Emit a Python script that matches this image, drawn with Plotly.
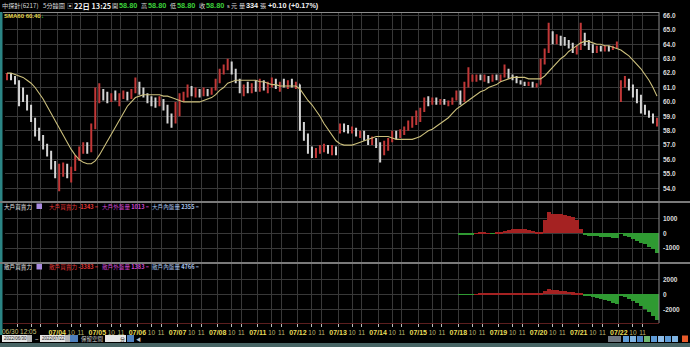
import plotly.graph_objects as go
from plotly.subplots import make_subplots

W, H = 690, 347

# ---------------- data (10 bars per trading day, 06/30 afternoon = 3 bars) ----------------
day_labels = ["07/01", "07/04", "07/05", "07/06", "07/07", "07/08", "07/11", "07/12",
              "07/13", "07/14", "07/15", "07/18", "07/19", "07/20", "07/21", "07/22"]
hour_labels = ["10", "11"]

opens = [61.6, 61.9, 61.6,
         61.4, 60.6, 60.3, 59.6, 58.8, 57.9, 57.5, 57.0, 56.4, 55.6,
         55.0, 55.2, 55.4, 55.0, 55.3, 56.1, 56.7, 57.0, 56.6, 58.2,
         60.3, 60.6, 60.4, 60.2, 60.5, 60.3, 60.4, 60.6, 60.3, 60.8,
         61.2, 60.7, 60.5, 60.1, 60.0, 59.9, 60.1, 59.6, 58.9, 58.7,
         59.8, 60.3, 60.5, 60.9, 60.6, 60.8, 60.5, 60.7, 60.6, 60.9,
         61.4, 62.1, 62.4, 62.6, 62.1, 61.5, 60.9, 61.0, 60.8, 61.1,
         61.0, 61.2, 60.9, 61.2, 61.5, 61.1, 61.3, 61.2, 61.4, 61.1,
         61.2, 58.4, 57.6, 56.7, 56.3, 56.6, 56.8, 56.9, 56.6, 56.8,
         57.9, 58.3, 58.2, 58.0, 58.1, 57.8, 57.9, 57.5, 57.3, 57.4,
         57.0, 56.6, 57.1, 57.3, 57.8, 57.6, 57.9, 58.1, 58.5, 58.8,
         59.1, 59.4, 60.1, 59.9, 60.1, 59.9, 60.0, 59.9, 60.0, 60.2,
         60.6, 60.1, 61.1, 61.6, 61.7, 61.8, 61.6, 61.7, 61.5, 61.7,
         61.6, 61.8, 62.2, 61.7, 61.6, 61.4, 61.3, 61.2, 61.3, 61.1,
         61.2, 62.8, 63.5, 64.5, 64.3, 64.5, 64.2, 64.1, 63.9, 63.6,
         63.7, 64.6, 64.1, 63.8, 63.6, 63.7, 63.6, 63.8, 63.7, 63.8,
         60.1, 61.3, 61.5, 61.0, 60.5, 60.2, 59.5, 59.3, 59.1, 58.7]
highs = [62.0, 62.0, 61.8,
         61.5, 61.0, 60.5, 59.8, 58.9, 58.2, 57.7, 57.1, 56.6, 55.9,
         55.7, 55.8, 55.7, 55.5, 56.3, 56.9, 57.2, 57.2, 58.5, 61.0,
         61.3, 60.9, 60.7, 60.6, 60.8, 60.6, 60.8, 60.7, 60.9, 61.7,
         61.4, 61.0, 60.6, 60.4, 60.3, 60.4, 60.2, 59.8, 59.2, 60.0,
         60.6, 60.7, 61.2, 61.1, 61.0, 60.9, 61.0, 60.9, 61.0, 61.6,
         62.3, 62.6, 63.0, 62.8, 62.3, 61.6, 61.2, 61.4, 61.3, 61.5,
         61.6, 61.5, 61.4, 61.7, 61.6, 61.4, 61.6, 61.5, 61.6, 61.4,
         61.2, 58.6, 57.8, 56.9, 56.8, 57.0, 57.1, 57.0, 57.0, 56.9,
         58.5, 58.5, 58.4, 58.3, 58.2, 58.0, 58.0, 57.7, 57.6, 57.5,
         57.2, 57.3, 57.5, 58.0, 58.0, 58.1, 58.3, 58.7, 59.0, 59.4,
         59.6, 60.3, 60.4, 60.3, 60.3, 60.2, 60.2, 60.1, 60.3, 60.8,
         60.8, 61.4, 62.4, 61.9, 61.9, 61.9, 61.9, 61.8, 61.9, 61.9,
         61.9, 62.6, 62.3, 61.9, 61.8, 61.5, 61.4, 61.4, 61.4, 61.3,
         63.0, 63.7, 65.5, 64.9, 64.7, 64.6, 64.5, 64.3, 64.1, 63.9,
         65.5, 64.8, 64.3, 64.0, 63.9, 63.9, 63.9, 63.9, 63.9, 64.2,
         61.5, 61.8, 61.6, 61.2, 60.9, 60.5, 59.8, 59.4, 59.2, 58.9]
lows = [61.5, 61.5, 61.2,
        59.7, 60.0, 59.4, 58.6, 57.6, 57.3, 56.7, 56.2, 55.3, 54.7,
        53.8, 54.8, 54.7, 54.4, 55.2, 55.9, 56.4, 56.4, 56.5, 58.1,
        59.9, 60.1, 59.9, 60.0, 60.1, 59.7, 60.2, 60.1, 60.2, 60.6,
        60.5, 60.3, 59.9, 59.7, 59.6, 59.7, 59.4, 58.5, 58.2, 58.5,
        59.0, 60.0, 60.3, 60.4, 60.3, 60.3, 60.4, 60.4, 60.5, 60.8,
        61.3, 61.9, 62.2, 61.9, 61.3, 60.6, 60.4, 60.6, 60.6, 60.7,
        60.7, 60.8, 60.6, 61.0, 60.9, 60.7, 61.0, 60.9, 61.0, 60.9,
        58.0, 57.3, 56.4, 56.1, 56.1, 56.4, 56.5, 56.4, 56.3, 56.3,
        57.8, 57.9, 57.8, 57.8, 57.6, 57.5, 57.3, 57.0, 57.0, 56.8,
        55.8, 56.3, 56.6, 57.2, 57.4, 57.5, 57.7, 58.0, 58.2, 58.4,
        58.6, 59.3, 59.7, 59.8, 59.8, 59.8, 59.8, 59.7, 59.8, 60.1,
        59.8, 60.0, 61.0, 61.4, 61.4, 61.5, 61.4, 61.3, 61.4, 61.5,
        61.4, 61.7, 61.6, 61.5, 61.3, 61.2, 61.1, 61.1, 61.0, 61.0,
        61.2, 62.6, 63.4, 64.0, 64.0, 63.9, 63.9, 63.7, 63.4, 63.3,
        63.6, 63.9, 63.6, 63.4, 63.4, 63.5, 63.5, 63.5, 63.6, 63.7,
        60.0, 61.0, 60.8, 60.3, 59.9, 59.2, 59.1, 58.9, 58.5, 58.3]
closes = [61.9, 61.6, 61.4,
          60.6, 60.3, 59.6, 58.8, 57.9, 57.5, 57.0, 56.4, 55.6, 55.0,
          55.2, 55.4, 55.0, 55.3, 56.1, 56.7, 57.0, 56.6, 58.2, 60.3,
          60.6, 60.4, 60.2, 60.5, 60.3, 60.4, 60.6, 60.3, 60.8, 61.2,
          60.7, 60.5, 60.1, 60.0, 59.9, 60.1, 59.6, 58.9, 58.7, 59.8,
          60.3, 60.5, 60.9, 60.6, 60.8, 60.5, 60.7, 60.6, 60.9, 61.4,
          62.1, 62.4, 62.6, 62.1, 61.5, 60.9, 61.0, 60.8, 61.1, 61.0,
          61.2, 60.9, 61.2, 61.5, 61.1, 61.3, 61.2, 61.4, 61.1, 61.2,
          58.4, 57.6, 56.7, 56.3, 56.6, 56.8, 56.9, 56.6, 56.8, 56.5,
          58.3, 58.2, 58.0, 58.1, 57.8, 57.9, 57.5, 57.3, 57.4, 57.0,
          56.6, 57.1, 57.3, 57.8, 57.6, 57.9, 58.1, 58.5, 58.8, 59.1,
          59.4, 60.1, 59.9, 60.1, 59.9, 60.0, 59.9, 60.0, 60.2, 60.6,
          60.1, 61.1, 61.6, 61.7, 61.8, 61.6, 61.7, 61.5, 61.7, 61.6,
          61.8, 62.2, 61.7, 61.6, 61.4, 61.3, 61.2, 61.3, 61.1, 61.2,
          62.8, 63.5, 64.5, 64.3, 64.5, 64.2, 64.1, 63.9, 63.6, 63.7,
          64.6, 64.1, 63.8, 63.6, 63.7, 63.6, 63.8, 63.7, 63.8, 63.9,
          61.3, 61.5, 61.0, 60.5, 60.2, 59.5, 59.3, 59.1, 58.7, 58.8]
sma60 = [62.0, 62.0, 61.9,
         61.8, 61.7, 61.5, 61.3, 61.0, 60.6, 60.2, 59.7, 59.2, 58.6,
         58.1, 57.6, 57.1, 56.7, 56.3, 56.0, 55.8, 55.7, 55.7, 55.9,
         56.3, 56.8, 57.3, 57.8, 58.3, 58.8, 59.3, 59.7, 60.0, 60.3,
         60.4, 60.5, 60.5, 60.5, 60.5, 60.5, 60.4, 60.4, 60.3, 60.2,
         60.1, 60.0, 60.0, 60.0, 60.0, 60.0, 60.1, 60.2, 60.3, 60.5,
         60.8, 61.0, 61.3, 61.4, 61.5, 61.5, 61.5, 61.5, 61.5, 61.5,
         61.4, 61.4, 61.3, 61.2, 61.2, 61.1, 61.1, 61.1, 61.1, 61.1,
         60.9, 60.5, 60.1, 59.8, 59.4, 59.0, 58.5, 58.1, 57.7, 57.3,
         57.1, 57.0, 57.0, 57.0, 57.1, 57.2, 57.3, 57.4, 57.5, 57.6,
         57.6, 57.6, 57.6, 57.5, 57.4, 57.4, 57.4, 57.4, 57.4, 57.5,
         57.6, 57.8, 58.0, 58.1, 58.3, 58.5, 58.7, 58.9, 59.2, 59.5,
         59.7, 59.9, 60.1, 60.3, 60.5, 60.7, 60.8, 61.0, 61.1, 61.2,
         61.4, 61.5, 61.6, 61.7, 61.7, 61.7, 61.7, 61.6, 61.6, 61.6,
         61.6, 61.8, 62.1, 62.4, 62.7, 63.0, 63.2, 63.5, 63.7, 63.9,
         64.1, 64.2, 64.2, 64.1, 64.0, 64.0, 63.9, 63.9, 63.8, 63.7,
         63.6, 63.4, 63.2, 62.9, 62.6, 62.3, 61.9, 61.5, 61.0, 60.4]

flow_start = 113  # first bar (07/18 open) with big/retail flow data
big_force = [-60, -100, -120, -80, 20, 30, 40, 20, -20, 30,
             60, 150, 250, 290, 300, 290, 260, 220, 180, 120,
             50, 900, 1450, 1300, 1280, 1300, 1250, 1200, 1100, 900,
             300, -120, -150, -180, -200, -230, -260, -280, -300, -320,
             -30, -150, -250, -400, -550, -650, -750, -900, -1100, -1343]
retail_force = [-50, -60, -40, -30, 30, 50, 60, 70, 60, 80,
                100, 120, 130, 130, 120, 110, 100, 90, 80, 70,
                100, 500, 680, 600, 520, 450, 400, 330, 260, 200,
                50, -130, -260, -390, -520, -650, -780, -920, -1100, -1300,
                -150, -400, -650, -900, -1200, -1550, -1950, -2400, -2900, -3383]

price_ticks = [54, 55, 56, 57, 58, 59, 60, 61, 62, 63, 64, 65, 66]
big_ticks = [-1000, 0, 1000]
retail_ticks = [-2000, 0, 2000]

# ---------------- styling ----------------
UP = "#c23838"
DN = "#d4d4d4"
RED_AREA = "#a52222"
GREEN_AREA = "#2f9a32"
GRID = "#383838"
FONT = "Liberation Sans, Noto Sans CJK TC, sans-serif"
CJK = "Noto Sans CJK TC, Liberation Sans, sans-serif"


def px(x):
    return x / W


def py(y):
    return 1 - y / H


n = len(closes)
xs = list(range(n))

# tick positions: day start, 10:00, 11:00
tickvals, ticktext = [], []
for k, d in enumerate(day_labels):
    s = 2.5 + 10 * k
    show = k > 0
    tickvals += [s, s + 3.5, s + 5.9]
    ticktext += ["<b>%s</b>" % d if show else "",
                 '<span style="color:#bdb670;font-size:6.5px">%s</span>' % hour_labels[0] if show else "",
                 '<span style="color:#bdb670;font-size:6.5px">%s</span>' % hour_labels[1] if show else ""]

fig = make_subplots(rows=3, cols=1, shared_xaxes=True, vertical_spacing=0.01)

fig.add_trace(go.Ohlc(
    x=xs, open=opens, high=highs, low=lows, close=closes, tickwidth=0.2,
    increasing=dict(line=dict(color=UP, width=2)),
    decreasing=dict(line=dict(color=DN, width=2)),
    hoverinfo="skip", showlegend=False), row=1, col=1)
fig.add_trace(go.Scatter(x=xs, y=sma60, mode="lines",
                         line=dict(color="#cbbf7c", width=1.1),
                         hoverinfo="skip", showlegend=False), row=1, col=1)

fx = xs[flow_start:flow_start + len(big_force)]
fig.add_trace(go.Bar(x=fx, y=big_force, width=1.0,
                     marker=dict(color=[RED_AREA if v >= 0 else GREEN_AREA for v in big_force],
                                 line=dict(width=0)),
                     hoverinfo="skip", showlegend=False), row=2, col=1)
fig.add_trace(go.Bar(x=fx, y=retail_force, width=1.0,
                     marker=dict(color=[RED_AREA if v >= 0 else GREEN_AREA for v in retail_force],
                                 line=dict(width=0)),
                     hoverinfo="skip", showlegend=False), row=3, col=1)

xdom = [px(5), px(659)]
common_x = dict(range=[-0.5, n - 0.5], domain=xdom, tickmode="array", tickvals=tickvals,
                ticktext=ticktext, showgrid=True, gridcolor=GRID, gridwidth=1,
                zeroline=False, showline=False, rangeslider=dict(visible=False))
fig.update_layout(
    width=W, height=H, margin=dict(l=0, r=0, t=0, b=0),
    paper_bgcolor="black", plot_bgcolor="black", bargap=0, showlegend=False,
    xaxis=dict(common_x, showticklabels=False, ticks=""),
    xaxis2=dict(common_x, showticklabels=False, ticks=""),
    xaxis3=dict(common_x, showticklabels=True, ticks="outside", ticklen=3, tickangle=0,
                tickcolor="#bdbdbd", tickfont=dict(family=FONT, size=7, color="#e6dc58")),
)
yfont = dict(family=FONT, size=6.5, color="#dcdcdc", weight="bold")
fig.update_layout(
    yaxis=dict(domain=[py(201), py(12)], range=[53.118, 66.243], side="right",
               tickvals=price_ticks, ticktext=["%.1f" % v for v in price_ticks],
               tickfont=yfont, showgrid=True, gridcolor=GRID, zeroline=False, ticks="",
               ticklabelstandoff=3),
    yaxis2=dict(domain=[py(262), py(203)], range=[-1952, 2061], side="right",
                tickvals=big_ticks, ticktext=[str(v) for v in big_ticks],
                tickfont=yfont, showgrid=True, gridcolor=GRID, zeroline=False, ticks="",
                ticklabelstandoff=3),
    yaxis3=dict(domain=[py(323), py(264)], range=[-3827, 4040], side="right",
                tickvals=retail_ticks, ticktext=[str(v) for v in retail_ticks],
                tickfont=yfont, showgrid=True, gridcolor=GRID, zeroline=False, ticks="",
                ticklabelstandoff=3),
)


def rect(x0, y0, x1, y1, color, line=None):
    fig.add_shape(type="rect", xref="paper", yref="paper", x0=px(x0), x1=px(x1),
                  y0=py(y1), y1=py(y0), fillcolor=color,
                  line=dict(width=0) if line is None else line, layer="above")


def hline(y, x0, x1, color, width=1):
    fig.add_shape(type="line", xref="paper", yref="paper", x0=px(x0), x1=px(x1),
                  y0=py(y), y1=py(y), line=dict(color=color, width=width), layer="above")


def vline(x, y0, y1, color, width=1):
    fig.add_shape(type="line", xref="paper", yref="paper", x0=px(x), x1=px(x),
                  y0=py(y0), y1=py(y1), line=dict(color=color, width=width), layer="above")


def ann(x, y, text, color, size=6.5, bold=False, family=CJK, anchor="left"):
    fig.add_annotation(x=px(x), y=py(y), xref="paper", yref="paper", text=text,
                       showarrow=False, xanchor=anchor, yanchor="middle", borderpad=0,
                       font=dict(family=family, size=size, color=color,
                                 weight="bold" if bold else "normal"))


# frame / separators
rect(0, 12, 2.5, 335, "#2b8585")
hline(12.5, 3, 659, "#8c8c8c")
vline(659, 12, 323, "#8c8c8c")
hline(202, 0, 690, "#7a7a7a", 2)
hline(263, 0, 690, "#7a7a7a", 2)
hline(323.5, 3, 659, "#5c1f1f")

# header line
ann(1, 6, "中探針(6217)", "#d8d8d8", 6.2)
ann(42, 6, "5分鐘圖", "#d8d8d8", 6.2)
ann(66, 6, "▣", "#bdbdbd", 6)
ann(73, 6, "22日 13:25", "#f0f0f0", 7.3, bold=True)
for xl, xv, lab in [(111, 118, "開"), (140, 147, "高"), (169, 176, "低"), (198, 205, "收")]:
    ann(xl, 6, lab, "#d8d8d8", 6.2)
    ann(xv, 6, "58.80", "#3ccf3c", 7.3, bold=True, family=FONT)
ann(226, 6.5, "s", "#d8d8d8", 5.5, family=FONT)
ann(230, 6, "元", "#d8d8d8", 6.2)
ann(238, 6, "量", "#d8d8d8", 6.2)
ann(245, 6, "334", "#f0f0f0", 7.3, bold=True, family=FONT)
ann(259, 6, "張", "#d8d8d8", 6.2)
ann(267, 6, "+0.10 (+0.17%)", "#f0f0f0", 7.3, bold=True, family=FONT)

# SMA label
ann(3, 15.5, "SMA60 60.40", "#e6d64c", 6, bold=True, family=FONT)
ann(40, 15.5, "↓", "#3ccf3c", 6, family=FONT)

# panel headers
for yy, who, a, b, c in [(206.5, "大戶", "-1343", "1013", "2355"),
                          (267, "散戶", "-3383", "1383", "4766")]:
    ann(3, yy, who + "買賣力", "#e0e0e0", 5.6)
    rect(36.5, yy - 3, 42, yy + 2.5, "#a98be0")
    ann(48, yy, who + "買賣力 <b>" + a + "</b> =", "#e23838", 5.6)
    ann(101, yy, who + "外盤量 <b>" + b + "</b> =", "#d048d0", 5.6)
    ann(151, yy, who + "內盤量 <b>" + c + "</b> =", "#a8c2ea", 5.6)

# first time label on x axis
ann(1, 331, "06/30 12:05", "#c9c27a", 6.5, family=FONT)

# bottom control bar
rect(2, 335, 27, 342, "#e6e6e6")
ann(3, 338.5, "2022/06/30", "#202020", 4.5, family=FONT)
rect(27, 335, 32, 342, "#b8b8b8")
ann(34, 338.5, "~", "#d0d0d0", 6, family=FONT)
rect(40, 335, 65, 342, "#e6e6e6")
ann(41, 338.5, "2022/07/22", "#202020", 4.5, family=FONT)
rect(65, 335, 70, 342, "#b8b8b8")
rect(70, 335, 78, 342, "#4f80bd")
ann(80, 338.5, "保留空間", "#cfcfcf", 5.5)
rect(105, 335, 126, 342, "#e6e6e6")
ann(119, 338.5, "分", "#202020", 5)
rect(127, 335, 134, 342, "#4f80bd")
ann(135, 338.5, "◀", "#bdbdbd", 5, family=FONT)
rect(608, 336, 621, 342, "#6e7680")
for i, col in enumerate(["#5d9ad6", "#7fb3e2", "#4f86c6", "#6fb86f", "#5d9ad6",
                         "#8fbde8", "#5d9ad6", "#7fb3e2"]):
    rect(623 + 7 * i, 336, 629 + 7 * i, 342, col)
rect(682, 335.5, 688, 342, "#e85a2a")
rect(0, 343, 690, 347, "#476464")

fig.write_html("out.html")
